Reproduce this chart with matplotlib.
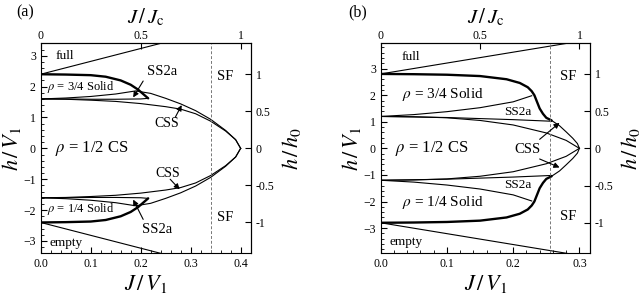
import numpy as np
import matplotlib.pyplot as plt
from matplotlib.ticker import MultipleLocator

plt.rcParams['font.family'] = ['Liberation Serif', 'DejaVu Serif']
plt.rcParams['mathtext.fontset'] = 'stix'

# ---- panel (a) data (upper half, lower half is mirrored) ----
a_Jc, a_h0, a_Jdash = 0.4, 2.4, 0.34
a_full_J = [0.0, 0.42]
a_full_h = [2.4, 4.15]
a_thick_J = [0.0, 0.05, 0.10, 0.13, 0.16, 0.18, 0.195, 0.205, 0.215]
a_thick_h = [2.40, 2.39, 2.37, 2.32, 2.20, 2.06, 1.90, 1.76, 1.62]
a_solid_J = [0.0, 0.05, 0.10, 0.15, 0.20, 0.215]
a_solid_h = [1.60, 1.60, 1.59, 1.59, 1.60, 1.62]
a_outer_J = [0.0, 0.05, 0.10, 0.15, 0.19, 0.22, 0.25, 0.28, 0.31, 0.34, 0.37, 0.39, 0.40]
a_outer_h = [1.60, 1.63, 1.68, 1.76, 1.86, 1.78, 1.62, 1.44, 1.22, 0.94, 0.58, 0.28, 0.0]
a_inner_J = [0.0, 0.05, 0.10, 0.15, 0.20, 0.25, 0.28, 0.31, 0.34, 0.37, 0.39, 0.40]
a_inner_h = [1.60, 1.59, 1.56, 1.52, 1.45, 1.35, 1.27, 1.12, 0.88, 0.56, 0.28, 0.0]

# ---- panel (b) data ----
b_Jc, b_h0, b_Jdash = 0.3, 2.8, 0.255
b_full_J = [0.0, 0.32]
b_full_h = [2.8, 4.11]
b_thick_J = [0.0, 0.05, 0.10, 0.15, 0.19, 0.21, 0.222, 0.228, 0.232, 0.236, 0.24, 0.245, 0.25, 0.258]
b_thick_h = [2.80, 2.79, 2.77, 2.72, 2.60, 2.46, 2.30, 2.15, 2.00, 1.75, 1.50, 1.30, 1.15, 1.05]
b_ss_J = [0.0, 0.05, 0.10, 0.15, 0.20, 0.228]
b_ss_h = [1.20, 1.27, 1.38, 1.53, 1.75, 1.98]
b_solid_J = [0.0, 0.10, 0.20, 0.258]
b_solid_h = [1.20, 1.16, 1.08, 1.02]
b_outer_J = [0.258, 0.27, 0.28, 0.29, 0.297, 0.30]
b_outer_h = [1.05, 0.85, 0.62, 0.38, 0.18, 0.0]
b_inner_J = [0.0, 0.05, 0.10, 0.15, 0.20, 0.25, 0.28, 0.30]
b_inner_h = [1.20, 1.19, 1.15, 1.05, 0.88, 0.58, 0.30, 0.0]


def draw(ax, Jc, h0, Jdash, xmax, ymax, curves, thick):
    for J, h in curves:
        ax.plot(J, h, color='k', lw=0.8)
        ax.plot(J, -np.array(h), color='k', lw=0.8)
    J, h = thick
    ax.plot(J, h, color='k', lw=1.7, solid_capstyle='round')
    ax.plot(J, -np.array(h), color='k', lw=1.7, solid_capstyle='round')
    ax.axvline(Jdash, color='#777777', lw=0.7, ls=(0, (3, 2)))
    ax.set_xlim(0, xmax)
    ax.set_ylim(-ymax, ymax)
    ax.xaxis.set_minor_locator(MultipleLocator(0.02))
    ax.yaxis.set_minor_locator(MultipleLocator(0.2))
    ax.set_xticks(np.arange(0, xmax, 0.1))
    ax.set_xticklabels(['%.1f' % v for v in np.arange(0, xmax, 0.1)])
    ax.set_yticks([-3, -2, -1, 0, 1, 2, 3])
    ax.tick_params(which='both', direction='in', labelsize=8.5, right=False, top=False)
    ax.tick_params(which='major', length=4)
    ax.tick_params(which='minor', length=2)
    top = ax.secondary_xaxis('top', functions=(lambda x: x / Jc, lambda x: x * Jc))
    top.set_xticks([0, 0.5, 1])
    top.set_xticklabels(['0', '0.5', '1'])
    top.tick_params(direction='in', labelsize=8.5, length=4, pad=1)
    right = ax.secondary_yaxis('right', functions=(lambda y: y / h0, lambda y: y * h0))
    right.set_yticks([-1, -0.5, 0, 0.5, 1])
    right.set_yticklabels(['-1', '-0.5', '0', '0.5', '1'])
    right.tick_params(direction='in', labelsize=8.5, length=4)
    for sp in list(ax.spines.values()):
        sp.set_linewidth(0.8)
    ax.set_xlabel(r'$J\,/\,V_1$', fontsize=16, labelpad=2)
    ax.set_ylabel(r'$h\,/\,V_1$', fontsize=16, labelpad=0)
    top.set_xlabel(r'$J\,/\,J_{\rm c}$', fontsize=15, labelpad=5)
    right.set_ylabel(r'$h\,/\,h_0$', fontsize=16, labelpad=4)


def arrow(ax, tail, head):
    ax.annotate('', xy=head, xytext=tail,
                arrowprops=dict(arrowstyle='-|>', color='k', lw=0.8,
                                mutation_scale=8, shrinkA=0, shrinkB=0))


fig = plt.figure(figsize=(6.42, 2.97), dpi=100)
ax1 = fig.add_axes([0.0634, 0.147, 0.327, 0.707])
ax2 = fig.add_axes([0.593, 0.147, 0.326, 0.707])

draw(ax1, a_Jc, a_h0, a_Jdash, 0.42, 3.4,
     [(a_full_J, a_full_h), (a_solid_J, a_solid_h), (a_outer_J, a_outer_h),
      (a_inner_J, a_inner_h)], (a_thick_J, a_thick_h))
draw(ax2, b_Jc, b_h0, b_Jdash, 0.316, 3.95,
     [(b_full_J, b_full_h), (b_ss_J, b_ss_h), (b_solid_J, b_solid_h),
      (b_outer_J, b_outer_h), (b_inner_J, b_inner_h)], (b_thick_J, b_thick_h))

# panel (a) labels
ax1.text(0.029, 2.99, 'full', fontsize=9.5, va='center')
ax1.text(0.012, 1.99, r'$\rho$ = 3/4 Solid', fontsize=9, va='center')
ax1.text(0.243, 2.5, 'SS2a', fontsize=10.5, ha='center', va='center')
ax1.text(0.369, 2.34, 'SF', fontsize=10.5, ha='center', va='center')
ax1.text(0.253, 0.81, 'CSS', fontsize=10, ha='center', va='center')
ax1.text(0.029, 0.0, r'$\rho$ = 1/2 CS', fontsize=12, va='center')
ax1.text(0.255, -0.81, 'CSS', fontsize=10, ha='center', va='center')
ax1.text(0.012, -1.98, r'$\rho$ = 1/4 Solid', fontsize=9, va='center')
ax1.text(0.369, -2.24, 'SF', fontsize=10.5, ha='center', va='center')
ax1.text(0.233, -2.63, 'SS2a', fontsize=10.5, ha='center', va='center')
ax1.text(0.05, -3.05, 'empty', fontsize=9.5, ha='center', va='center')
arrow(ax1, (0.205, 2.18), (0.185, 1.65))
arrow(ax1, (0.269, 1.0), (0.282, 1.40))
arrow(ax1, (0.259, -1.0), (0.278, -1.33))
arrow(ax1, (0.205, -2.3), (0.185, -1.66))

# panel (b) labels
ax2.text(0.032, 3.45, 'full', fontsize=9.5, va='center')
ax2.text(0.283, 2.7, 'SF', fontsize=10.5, ha='center', va='center')
ax2.text(0.032, 2.02, r'$\rho$ = 3/4 Solid', fontsize=11, va='center')
ax2.text(0.207, 1.35, 'SS2a', fontsize=9.5, ha='center', va='center')
ax2.text(0.022, 0.0, r'$\rho$ = 1/2 CS', fontsize=12, va='center')
ax2.text(0.222, -0.06, 'CSS', fontsize=10.5, ha='center', va='center')
ax2.text(0.207, -1.39, 'SS2a', fontsize=9.5, ha='center', va='center')
ax2.text(0.032, -2.02, r'$\rho$ = 1/4 Solid', fontsize=11, va='center')
ax2.text(0.283, -2.58, 'SF', fontsize=10.5, ha='center', va='center')
ax2.text(0.038, -3.52, 'empty', fontsize=9.5, ha='center', va='center')
arrow(ax2, (0.24, 0.34), (0.27, 0.96))
arrow(ax2, (0.24, -0.4), (0.27, -0.72))

fig.text(0.026, 0.985, '(a)', fontsize=11.5, va='top')
fig.text(0.542, 0.985, '(b)', fontsize=11.5, va='top')

fig.savefig('out.png', dpi=100)
